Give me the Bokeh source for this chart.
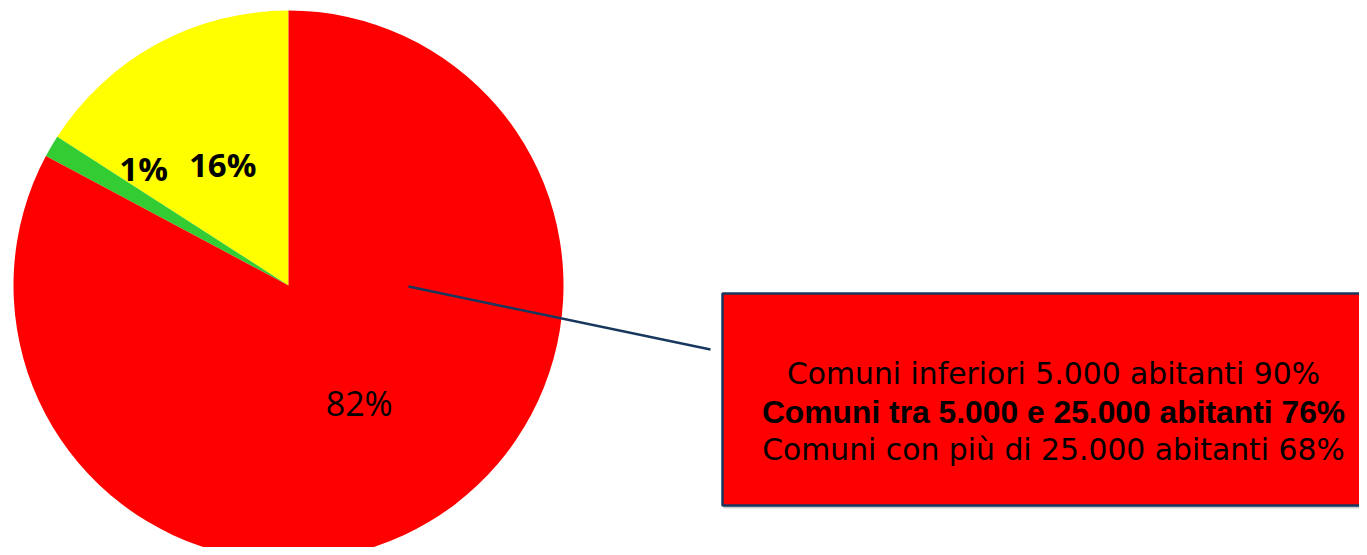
import math
from bokeh.plotting import figure
from bokeh.models import Range1d, ColumnDataSource
from bokeh.core.properties import value
from bokeh.embed import file_html
from bokeh.resources import INLINE

# ---- data ----
categories = ["Comuni inferiori 5.000 abitanti", "Comuni tra 5.000 e 25.000", "Comuni oltre 25.000"]
shares = [15.9, 1.3, 82.8]          # yellow, green, red (anticlockwise from 12 o'clock)
labels = ["16%", "1%", "82%"]
colors = ["#FFFF00", "#33CC33", "#FF0000"]
label_bold = [True, True, False]
box_lines = [
    "Comuni inferiori 5.000 abitanti 90%",
    "Comuni tra 5.000 e 25.000 abitanti 76%",
    "Comuni con più di 25.000 abitanti 68%",
]
box_line_bold = [False, True, False]

# ---- layout (data x = screen x, data y = 555 - screen y) ----
W, H = 1359, 547
cx, cy, R = 288, 270, 275
label_r = [0.5, 0.677, 0.5]
label_angle_shift = [0.0, -8.5, 0.0]

p = figure(width=W, height=H, x_range=Range1d(8, 8 + W), y_range=Range1d(0, H),
           output_backend="svg", toolbar_location=None, min_border=0)
p.axis.visible = False
p.grid.visible = False
p.outline_line_color = None
p.background_fill_color = "white"
p.border_fill_color = "white"

total = sum(shares)
starts, ends, lx, ly = [], [], [], []
a = math.pi / 2
for i, s in enumerate(shares):
    span = s / total * 2 * math.pi
    starts.append(a)
    ends.append(a + span)
    mid = a + span / 2 + math.radians(label_angle_shift[i])
    lx.append(cx + label_r[i] * R * math.cos(mid))
    ly.append(cy + label_r[i] * R * math.sin(mid))
    a += span

src = ColumnDataSource(dict(start=starts, end=ends, color=colors))
p.wedge(x=cx, y=cy, radius=R, start_angle="start", end_angle="end",
        direction="anticlock", fill_color="color", line_color=None, source=src)

for i in range(len(labels)):
    p.text(x=[lx[i]], y=[ly[i]], text=[labels[i]], text_align="center",
           text_baseline="middle", text_font=value("Open Sans"),
           text_font_size="33px" if label_bold[i] else "34px",
           text_font_style="bold" if label_bold[i] else "normal",
           text_color="black")

# callout line
p.line(x=[408, 710], y=[555 - 286, 555 - 349], line_color="#17375E", line_width=2.5)

# callout box (shadow + box)
p.quad(left=[723], right=[1400], top=[555 - 295], bottom=[555 - 508],
       fill_color="#A0A0A0", fill_alpha=0.5, line_color=None)
p.quad(left=[722], right=[1400], top=[555 - 293], bottom=[555 - 505],
       fill_color="#FF0000", line_color="#17375E", line_width=2.5)

baselines = [555 - 373, 555 - 411, 555 - 449]
for i, t in enumerate(box_lines):
    if box_line_bold[i]:
        p.text(x=[1053], y=[baselines[i]], text=[t], text_align="center",
               text_baseline="alphabetic", text_font=value("Liberation Sans"),
               text_font_size="31.8px", text_font_style="bold", text_color="black")
    else:
        p.text(x=[1053], y=[baselines[i]], text=[t], text_align="center",
               text_baseline="alphabetic", text_font=value("DejaVu Sans"),
               text_font_size="29.8px", text_color="black")

p.x_range = Range1d(0, W)
p.y_range = Range1d(8, 8 + H)

open("out.html", "w").write(file_html(p, INLINE))
